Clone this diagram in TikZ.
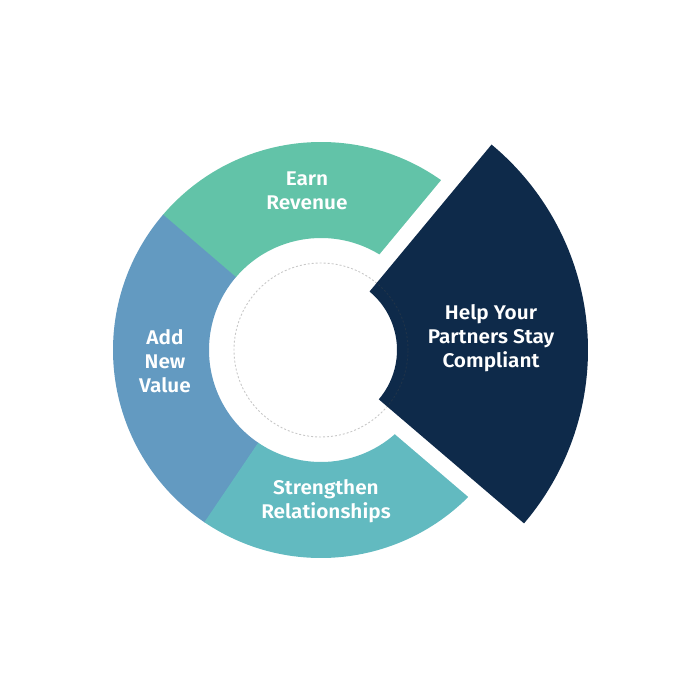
\documentclass[tikz,border=0pt]{standalone}
\usepackage{fontspec}
\setmainfont{Fira Sans}[BoldFont={Fira Sans SemiBold}, BoldFeatures={FakeStretch=1.05}]
\definecolor{cGreen}{RGB}{98,195,168}
\definecolor{cBlue}{RGB}{99,154,193}
\definecolor{cTeal}{RGB}{98,186,192}
\definecolor{cNavy}{RGB}{14,42,74}
\definecolor{cDot}{RGB}{72,72,72}
\tikzset{
  lbl/.style={text=white, align=center, font=\bfseries\fontsize{19.8}{24}\selectfont},
  gapline/.style={white, line width=32, line cap=butt},
  dotring/.style={cDot, opacity=0.3, line width=0.9, dash pattern=on 2 off 2}
}
\begin{document}
\begin{tikzpicture}[x=1pt,y=1pt]
\useasboundingbox (-321,-350) rectangle (379,350);
\def\ri{112}
\def\ro{208}
% ring segments
\fill[cGreen] (50:\ri) arc[start angle=50, end angle=139.6, radius=\ri] -- (139.6:\ro) arc[start angle=139.6, end angle=50, radius=\ro] -- cycle;
\fill[cBlue] (139.4:\ri) arc[start angle=139.4, end angle=236.1, radius=\ri] -- (236.1:\ro) arc[start angle=236.1, end angle=139.4, radius=\ro] -- cycle;
\fill[cTeal] (235.9:\ri) arc[start angle=235.9, end angle=320, radius=\ri] -- (320:\ro) arc[start angle=320, end angle=235.9, radius=\ro] -- cycle;
% gaps
\coordinate (o) at (0,0);
\coordinate (g1) at (50.3:300);
\coordinate (g2) at (-40.5:300);
\draw[gapline] (o) -- (g1);
\draw[gapline] (o) -- (g2);
% highlighted segment
\fill[cNavy] (-40.5:76) arc[start angle=-40.5, end angle=50.3, radius=76] -- (50.3:267) arc[start angle=50.3, end angle=-40.5, radius=267] -- cycle;
% dotted inner circle
\draw[dotring] (o) circle[radius=87];
% labels
\node[lbl] (earn) at (-14,159) {Earn\\Revenue};
\node[lbl] (add) at (-156,-11) {Add\\New\\Value};
\node[lbl] (str) at (5,-151) {Strengthen\\Relationships};
\node[lbl] (help) at (170,12) {Help Your\\Partners Stay\\Compliant};
\end{tikzpicture}
\end{document}
